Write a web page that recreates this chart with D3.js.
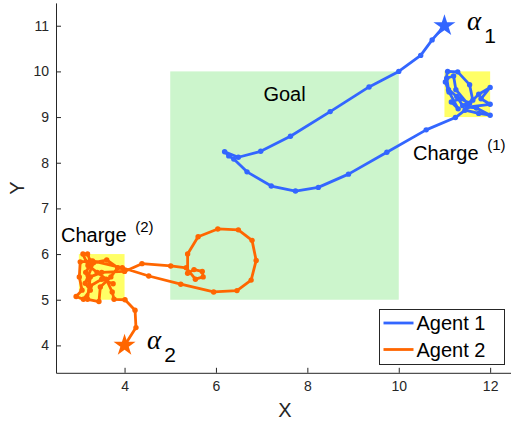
<!DOCTYPE html>
<html>
<head>
<meta charset="utf-8">
<script src="https://cdn.jsdelivr.net/npm/d3@7"></script>
<style>
  body { margin: 0; background: #fff; }
  svg { display: block; font-family: Arial, "Liberation Sans", sans-serif; }
</style>
</head>
<body>
<svg id="chart" width="511" height="426"></svg>
<script>
// ---- data ----
var xTicks = [4, 6, 8, 10, 12];
var yTicks = [4, 5, 6, 7, 8, 9, 10, 11];

// regions [x0, y0, x1, y1]
var goalRegion = [5, 5, 10, 10];
var chargeRegions = [[11, 9, 12, 10], [3, 5, 4, 6]];

var agentNames = ["Agent 1", "Agent 2"];
var agentStarts = [[11, 11], [4, 4]];

var agent1Path = [
  [11, 11], [10.73, 10.69], [10.48, 10.35], [10.0, 10.0], [9.35, 9.66],
  [8.5, 9.12], [7.63, 8.58], [6.98, 8.25], [6.49, 8.12], [6.19, 8.24],
  [6.28, 8.15], [6.39, 8.08], [6.68, 7.8], [7.21, 7.49], [7.74, 7.38],
  [8.24, 7.46], [8.9, 7.75], [9.74, 8.23], [10.6, 8.72], [11.24, 8.99],
  [11.45, 9.15], [11.75, 9.08], [12.0, 9.04], [11.7, 9.2], [11.5, 9.22],
  [12.0, 9.28], [11.8, 9.4], [12.0, 9.65], [11.75, 9.5], [11.55, 9.3],
  [11.35, 9.4], [11.15, 9.33], [11.3, 9.18], [11.1, 9.55], [11.02, 9.77],
  [11.07, 10.0], [11.29, 9.99], [11.55, 9.71], [11.62, 9.37], [11.4, 9.25],
  [11.27, 9.45], [11.09, 9.6], [11.05, 9.85], [11.2, 9.9], [11.25, 9.6],
  [11.5, 9.3]
];

var agent2Path = [
  [4, 4], [4.25, 4.39], [4.23, 4.77], [4.01, 5.0], [3.77, 5.01],
  [3.73, 5.17], [3.6, 5.45], [3.4, 5.6], [3.2, 5.75], [3.09, 6.0],
  [3.19, 6.0], [3.25, 5.85], [3.03, 5.83], [3.01, 5.5], [3.07, 5.21],
  [2.94, 5.07], [3.1, 5.01], [3.25, 5.21], [3.14, 5.36], [3.32, 5.81],
  [3.61, 5.87], [3.85, 5.7], [3.7, 5.5], [3.47, 5.28], [3.44, 4.96],
  [3.19, 5.01], [3.25, 5.5], [3.5, 5.6], [4.0, 5.62], [4.38, 5.79],
  [5.01, 5.74], [5.35, 5.7], [5.55, 5.45], [5.72, 5.5], [5.7, 5.62],
  [5.52, 5.66], [5.38, 5.58], [5.38, 6.0], [5.61, 6.38], [6.04, 6.55],
  [6.49, 6.53], [6.79, 6.3], [6.88, 5.86], [6.77, 5.43], [6.46, 5.2],
  [5.95, 5.17], [5.23, 5.34], [4.53, 5.52], [3.95, 5.7], [3.3, 5.85],
  [3.15, 5.6], [3.25, 5.3], [3.5, 5.45], [3.75, 5.35]
];

var paths = [agent1Path, agent2Path];
var colors = ["#3366ff", "#ff6600"];

// ---- layout ----
var svg = d3.select("#chart");
var x = d3.scaleLinear().domain([2.5, 12.5]).range([56, 513]);
var y = d3.scaleLinear().domain([3.4, 11.5]).range([372.8, 2.9]);
var axisColor = "#262626";

// regions
svg.append("rect")
  .attr("x", x(goalRegion[0])).attr("y", y(goalRegion[3]))
  .attr("width", x(goalRegion[2]) - x(goalRegion[0]))
  .attr("height", y(goalRegion[1]) - y(goalRegion[3]))
  .attr("fill", "#ccf5cc");

svg.selectAll(".charge").data(chargeRegions).enter().append("rect")
  .attr("class", "charge")
  .attr("x", function(d){ return x(d[0]); })
  .attr("y", function(d){ return y(d[3]); })
  .attr("width", function(d){ return x(d[2]) - x(d[0]); })
  .attr("height", function(d){ return y(d[1]) - y(d[3]); })
  .attr("fill", "#ffff66");

// axes
var gx = svg.append("g").attr("transform", "translate(0," + y(3.4) + ")")
  .call(d3.axisBottom(x).tickValues(xTicks).tickSizeInner(-5).tickSizeOuter(0).tickPadding(8));
var gy = svg.append("g").attr("transform", "translate(" + x(2.5) + ",0)")
  .call(d3.axisLeft(y).tickValues(yTicks).tickSizeInner(-5).tickSizeOuter(0).tickPadding(7));
[gx, gy].forEach(function(g){
  g.select(".domain").attr("stroke", axisColor);
  g.selectAll(".tick line").attr("stroke", axisColor);
  g.selectAll(".tick text").attr("fill", axisColor).style("font-size", "14px")
    .style("font-family", "Arial, 'Liberation Sans', sans-serif");
});

svg.append("text").attr("x", 285).attr("y", 417).attr("text-anchor", "middle")
  .attr("fill", axisColor).style("font-size", "20px").text("X");
svg.append("text").attr("transform", "translate(24,188) rotate(-90)").attr("text-anchor", "middle")
  .attr("fill", axisColor).style("font-size", "20px").text("Y");

// trajectories
var line = d3.line().x(function(d){ return x(d[0]); }).y(function(d){ return y(d[1]); });
paths.forEach(function(p, i){
  svg.append("path").datum(p).attr("d", line)
    .attr("fill", "none").attr("stroke", colors[i]).attr("stroke-width", 2.8)
    .attr("stroke-linejoin", "round");
  svg.append("g").selectAll("circle").data(p.slice(1)).enter().append("circle")
    .attr("cx", function(d){ return x(d[0]); })
    .attr("cy", function(d){ return y(d[1]); })
    .attr("r", 2.7).attr("fill", colors[i]);
});

// start stars
svg.selectAll(".star").data(agentStarts).enter().append("path")
  .attr("class", "star")
  .attr("d", d3.symbol().type(d3.symbolStar).size(150))
  .attr("transform", function(d){ return "translate(" + x(d[0]) + "," + y(d[1]) + ")"; })
  .attr("fill", function(d, i){ return colors[i]; });

// labels
svg.append("text").attr("x", x(7.5)).attr("y", y(9.35)).attr("text-anchor", "middle")
  .style("font-size", "20px").text("Goal");

function chargeLabel(px, py, sub){
  var t = svg.append("text").attr("x", px).attr("y", py).style("font-size", "20px");
  t.append("tspan").text("Charge ");
  t.append("tspan").attr("dx", 3).attr("dy", -10).style("font-size", "15px").text("(" + sub + ")");
}
chargeLabel(413, 160, 1);
chargeLabel(61, 242, 2);

function alphaLabel(px, py, sub){
  var t = svg.append("text").attr("x", px).attr("y", py);
  t.append("tspan").style("font-family", "'Liberation Serif', 'DejaVu Serif', serif")
    .style("font-style", "italic").style("font-size", "27px").text("\u03b1");
  t.append("tspan").attr("dx", 3).attr("dy", 13).style("font-size", "21px").text(sub);
}
alphaLabel(467, 30, "1");
alphaLabel(147, 349, "2");

// legend
var lg = svg.append("g").attr("transform", "translate(379.5,309.5)");
lg.append("rect").attr("width", 125).attr("height", 55)
  .attr("fill", "#fff").attr("stroke", axisColor).attr("stroke-width", 1);
agentNames.forEach(function(n, i){
  var yy = 13.5 + i * 26.5;
  lg.append("line").attr("x1", 4).attr("x2", 34).attr("y1", yy).attr("y2", yy)
    .attr("stroke", colors[i]).attr("stroke-width", 2.8);
  lg.append("text").attr("x", 37).attr("y", yy + 7).style("font-size", "20px").text(n);
});
</script>
</body>
</html>
